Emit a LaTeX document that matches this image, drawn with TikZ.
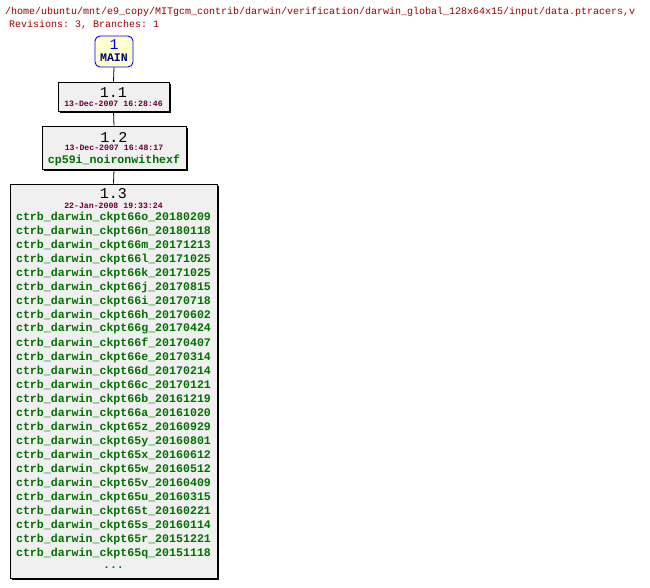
\documentclass[tikz,border=0pt]{standalone}
\usepackage{fontspec}
\setmonofont{Liberation Mono}
\usetikzlibrary{shadows}
\definecolor{hdr}{HTML}{990000}
\definecolor{tagc}{HTML}{007000}
\definecolor{datec}{HTML}{660033}
\definecolor{boxf}{HTML}{F0F0F0}
\definecolor{mainf}{HTML}{FFFFCC}
\begin{document}
\begin{tikzpicture}[x=1pt,y=-1pt,
 rev/.style={draw=black,fill=boxf,line width=0.9pt,drop shadow={shadow xshift=2pt,shadow yshift=-2pt,fill=black,opacity=1},inner sep=0pt},
 hdrtxt/.style={anchor=west,text=hdr,font=\ttfamily\fontsize{10}{10}\selectfont,inner sep=0pt},
 num/.style={font=\ttfamily\fontsize{15}{15}\selectfont,inner sep=0pt},
 dat/.style={font=\ttfamily\bfseries\fontsize{8.2}{8.2}\selectfont,text=datec,inner sep=0pt},
 tag/.style={font=\ttfamily\bfseries\fontsize{11.6}{11.6}\selectfont,text=tagc,inner sep=0pt},
 conn/.style={draw=black,line width=0.8pt}]
\useasboundingbox (0,0) rectangle (650,587);
\node[hdrtxt] (h1) at (5,12) {/home/ubuntu/mnt/e9\_copy/MITgcm\_contrib/darwin/verification/darwin\_global\_128x64x15/input/data.ptracers,v};
\node[hdrtxt] (h2) at (9,25) {Revisions: 3, Branches: 1};
% boxes
\node[draw=blue,fill=mainf,rounded corners=5pt,line width=0.9pt,minimum width=38pt,minimum height=31pt,inner sep=0pt] (m) at (114,51.5) {};
\node[rev,minimum width=111pt,minimum height=29pt] (b1) at (113.5,96.5) {};
\node[rev,minimum width=144pt,minimum height=43pt] (b2) at (114,147.5) {};
\node[rev,minimum width=207pt,minimum height=394pt] (b3) at (113.5,381) {};
\draw[conn] (m.south) -- (b1.north);
\draw[conn] (b1.south) -- (b2.north);
\draw[conn] (b2.south) -- (b3.north);
% texts
\node[num,text=blue] (t0) at (114,45) {1};
\node[font=\ttfamily\bfseries\fontsize{11.6}{11.6}\selectfont,text={rgb,255:red,0;green,0;blue,128},inner sep=0pt] (t0b) at (114,58) {MAIN};
\node[num] (t1) at (113.5,93) {1.1};
\node[dat] (d1) at (113.5,104) {13-Dec-2007 16:28:46};
\node[num] (t2) at (114,137) {1.2};
\node[dat] (d2) at (114,148) {13-Dec-2007 16:48:17};
\node[tag] (g2) at (114,160) {cp59i\_noironwithexf};
\node[num] (t3) at (113.5,194) {1.3};
\node[dat] (d3) at (113.5,206) {22-Jan-2008 19:33:24};
\foreach \s [count=\i from 0] in {66o\_20180209,66n\_20180118,66m\_20171213,66l\_20171025,66k\_20171025,66j\_20170815,66i\_20170718,66h\_20170602,66g\_20170424,66f\_20170407,66e\_20170314,66d\_20170214,66c\_20170121,66b\_20161219,66a\_20161020,65z\_20160929,65y\_20160801,65x\_20160612,65w\_20160512,65v\_20160409,65u\_20160315,65t\_20160221,65s\_20160114,65r\_20151221,65q\_20151118}
  \node[tag] (tg\i) at (113.5,217+14*\i) {ctrb\_darwin\_ckpt\s};
\node[tag] (dots) at (113.5,568) {...};
\end{tikzpicture}
\end{document}
